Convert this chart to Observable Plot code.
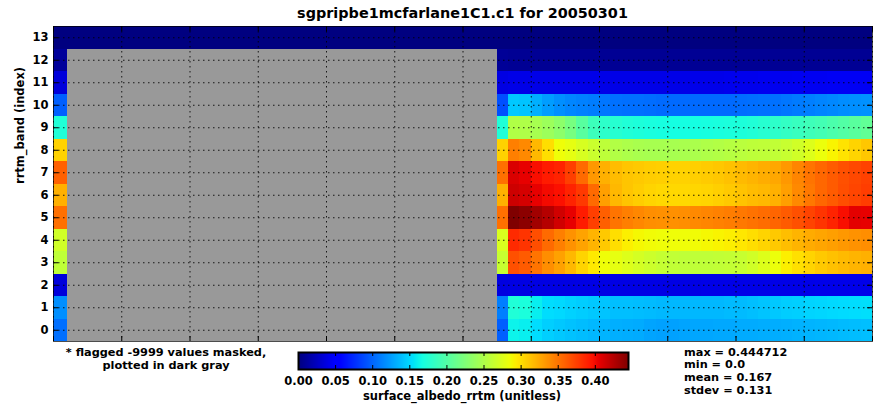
<!DOCTYPE html>
<html><head><meta charset="utf-8">
<script src="https://cdn.jsdelivr.net/npm/d3@7"></script>
<script src="https://cdn.jsdelivr.net/npm/@observablehq/plot@0.6"></script>
<style>
body{margin:0;background:#fff;}
#fig{position:relative;width:893px;height:405px;font-family:"DejaVu Sans",sans-serif;font-weight:bold;color:#000;overflow:hidden;}
#fig .t{position:absolute;white-space:nowrap;}
</style></head><body>
<div id="fig">
 <div class="t" style="left:0;width:925px;top:5px;text-align:center;font-size:14.4px;">sgpripbe1mcfarlane1C1.c1 for 20050301</div>
 <div class="t" style="left:36px;width:260px;top:346px;text-align:center;font-size:11.3px;line-height:13px;">* flagged -9999 values masked,<br>plotted in dark gray</div>
 <div class="t" style="left:684px;top:346.5px;font-size:11.3px;line-height:12.7px;" id="stats"></div>
 <div class="t" style="left:262px;width:400px;top:388.8px;text-align:center;font-size:11.5px;">surface_albedo_rrtm (unitless)</div>
</div>
<script>
// ---- data ----
const MASK = -9999;
const bands = [0,1,2,3,4,5,6,7,8,9,10,11,12,13];
// column start times (hours UTC); last column ends at dayEnd
const colStart = [0, 0.41, 13.0, 13.333, 13.667, 14.0, 14.333, 14.667, 15.0, 15.333, 15.667, 16.0, 16.333, 16.667, 17.0, 17.333, 17.667, 18.0, 18.333, 18.667, 19.0, 19.333, 19.667, 20.0, 20.333, 20.667, 21.0, 21.333, 21.667, 22.0, 22.333, 22.667, 23.0, 23.333, 23.667];
const dayEnd = 24;
const band0  = [0.104, MASK, 0.097, 0.162,0.160,0.152,0.146,0.143, 0.140,0.138,0.136,0.134,0.132, 0.131,0.130,0.127,0.126,0.126, 0.127,0.128,0.128,0.129,0.129, 0.130,0.130,0.131,0.131,0.132, 0.133,0.134,0.135,0.136,0.137, 0.138,0.139];
const band1  = [0.118, MASK, 0.111, 0.173,0.170,0.160,0.152,0.150, 0.147,0.145,0.143,0.141,0.139, 0.139,0.138,0.137,0.136,0.136, 0.136,0.136,0.136,0.136,0.137, 0.137,0.139,0.141,0.143,0.145, 0.146,0.148,0.149,0.150,0.151, 0.152,0.153];
const band2  = [0.035, MASK, 0.037, 0.038,0.038,0.038,0.038,0.038, 0.038,0.039,0.039,0.039,0.039, 0.039,0.039,0.039,0.039,0.039, 0.039,0.039,0.040,0.040,0.040, 0.040,0.040,0.040,0.040,0.040, 0.040,0.040,0.041,0.041,0.041, 0.041,0.041];
const band3  = [0.259, MASK, 0.263, 0.367,0.362,0.350,0.338,0.329, 0.318,0.305,0.295,0.285,0.280, 0.275,0.270,0.266,0.262,0.260, 0.259,0.259,0.259,0.260,0.261, 0.263,0.268,0.275,0.283,0.292, 0.299,0.305,0.310,0.314,0.317, 0.320,0.322];
const band4  = [0.268, MASK, 0.273, 0.385,0.380,0.368,0.355,0.345, 0.336,0.328,0.320,0.310,0.300, 0.292,0.288,0.286,0.285,0.285, 0.285,0.286,0.288,0.290,0.292, 0.296,0.300,0.305,0.310,0.315, 0.320,0.324,0.327,0.330,0.333, 0.336,0.338];
const band5  = [0.352, MASK, 0.352, 0.444712,0.440,0.432,0.424,0.414, 0.405,0.392,0.375,0.360,0.350, 0.345,0.341,0.338,0.337,0.337, 0.338,0.340,0.342,0.344,0.346, 0.348,0.351,0.354,0.357,0.362, 0.367,0.373,0.380,0.388,0.398, 0.406,0.405];
const band6  = [0.322, MASK, 0.322, 0.415,0.412,0.405,0.400,0.397, 0.388,0.378,0.355,0.330,0.318, 0.312,0.308,0.305,0.303,0.303, 0.303,0.304,0.305,0.307,0.310, 0.313,0.316,0.318,0.322,0.330, 0.340,0.348,0.356,0.362,0.368, 0.372,0.376];
const band7  = [0.359, MASK, 0.352, 0.410,0.405,0.398,0.392,0.388, 0.375,0.355,0.333,0.322,0.316, 0.312,0.310,0.308,0.307,0.306, 0.306,0.307,0.309,0.311,0.314, 0.317,0.320,0.323,0.326,0.333, 0.342,0.350,0.356,0.362,0.367, 0.371,0.374];
const band8  = [0.306, MASK, 0.306, 0.345,0.340,0.318,0.300,0.285, 0.280,0.272,0.265,0.258,0.252, 0.249,0.247,0.246,0.246,0.246, 0.247,0.248,0.250,0.252,0.254, 0.256,0.258,0.259,0.260,0.263, 0.268,0.275,0.283,0.290,0.298, 0.305,0.311];
const band9  = [0.173, MASK, 0.173, 0.251,0.250,0.246,0.240,0.232, 0.220,0.203,0.188,0.180,0.176, 0.173,0.171,0.169,0.168,0.167, 0.167,0.167,0.168,0.169,0.170, 0.171,0.173,0.176,0.180,0.183, 0.186,0.189,0.192,0.196,0.200, 0.204,0.208];
const band10 = [0.097, MASK, 0.090, 0.143,0.141,0.132,0.124,0.118, 0.114,0.112,0.110,0.107,0.105, 0.104,0.104,0.103,0.102,0.102, 0.102,0.102,0.102,0.102,0.102, 0.103,0.104,0.105,0.105,0.107, 0.109,0.111,0.113,0.115,0.117, 0.118,0.119];
const band11 = [0.035, MASK, 0.038, 0.040,0.040,0.040,0.040,0.040, 0.040,0.040,0.040,0.040,0.040, 0.040,0.040,0.040,0.040,0.040, 0.040,0.041,0.041,0.041,0.042, 0.042,0.042,0.043,0.043,0.043, 0.044,0.044,0.044,0.045,0.045, 0.045,0.045];
const band12 = [0.010, MASK, 0.009, 0.008,0.008,0.008,0.008,0.008, 0.008,0.008,0.008,0.008,0.008, 0.008,0.008,0.008,0.008,0.008, 0.008,0.008,0.008,0.008,0.008, 0.008,0.008,0.008,0.008,0.008, 0.008,0.008,0.008,0.008,0.008, 0.008,0.008];
const band13 = [0.0, 0.0, 0.0, 0.0,0.0,0.0,0.0,0.0, 0.0,0.0,0.0,0.0,0.0, 0.0,0.0,0.0,0.0,0.0, 0.0,0.0,0.0,0.0,0.0, 0.0,0.0,0.0,0.0,0.0, 0.0,0.0,0.0,0.0,0.0, 0.0,0.0];
const yTicks = [0,1,2,3,4,5,6,7,8,9,10,11,12,13];
const xTicks = [0,2,4,6,8,10,12,14,16,18,20,22,24];
const cbTicks = [0,0.05,0.10,0.15,0.20,0.25,0.30,0.35,0.40];
const statLabels = ["max", "min", "mean", "stdev"];
const statValues = ["0.444712", "0.0", "0.167", "0.131"];
const vmax = 0.444712;
const titleY = "rrtm_band (index)";

// ---- jet colormap (matplotlib segment data) ----
const jetR = [[0,0],[0.35,0],[0.66,1],[0.89,1],[1,0.5]];
const jetG = [[0,0],[0.125,0],[0.375,1],[0.64,1],[0.91,0],[1,0]];
const jetB = [[0,0.5],[0.11,1],[0.34,1],[0.65,0],[1,0]];
function seg(p, t) {
  for (let i = 1; i < p.length; i++) if (t <= p[i][0]) {
    const [t0, v0] = p[i-1], [t1, v1] = p[i];
    return v0 + (v1 - v0) * (t - t0) / (t1 - t0);
  }
  return p[p.length-1][1];
}
function jet(t) {
  t = Math.max(0, Math.min(1, t));
  const c = v => Math.round(255 * v);
  return `rgb(${c(seg(jetR,t))},${c(seg(jetG,t))},${c(seg(jetB,t))})`;
}
const colorOpts = {type: "linear", domain: [0, vmax], interpolate: jet};

// ---- table ----
const rows = [band0,band1,band2,band3,band4,band5,band6,band7,band8,band9,band10,band11,band12,band13];
const colEnd = colStart.slice(1).concat([dayEnd]);
const cells = rows.flatMap((vals, r) => vals.map((v, c) => ({band: bands[r], t0: colStart[c], t1: colEnd[c], v})));
const valid = cells.filter(d => d.v !== MASK);
const masked = cells.filter(d => d.v === MASK);

const font = {fontFamily: "DejaVu Sans", fontSize: "11.5px", fontWeight: "bold", background: "transparent", overflow: "visible"};
const rectOpts = {x1: "t0", x2: "t1", y1: d => d.band - 0.5, y2: d => d.band + 0.5, shapeRendering: "crispEdges"};
const gridStyle = {stroke: "#000", strokeOpacity: 0.85, strokeDasharray: "1.5,3.5"};

const main = Plot.plot({
  width: 893, height: 345,
  marginLeft: 53, marginRight: 21, marginTop: 26, marginBottom: 4,
  style: font,
  x: {domain: [0, dayEnd], axis: null},
  y: {domain: [-0.5, 13.5], ticks: yTicks, tickSize: 0, tickPadding: 5, label: null},
  color: colorOpts,
  marks: [
    Plot.rect(valid, {...rectOpts, fill: "v"}),
    Plot.rect(masked, {...rectOpts, fill: "#999999"}),
    Plot.ruleY(yTicks, {y: d => d, ...gridStyle}),
    Plot.ruleX(xTicks, {x: d => d, ...gridStyle}),
    Plot.ruleY(yTicks, {y: d => d, stroke: "#000", insetRight: 814}),
    Plot.ruleY(yTicks, {y: d => d, stroke: "#000", insetLeft: 814}),
    Plot.ruleX(xTicks, {x: d => d, stroke: "#000", insetTop: 310}),
    Plot.ruleX(xTicks, {x: d => d, stroke: "#000", insetBottom: 310}),
    Plot.frame({stroke: "#000", strokeOpacity: 0.7}),
    Plot.text([titleY], {text: d => d, frameAnchor: "left", dx: -33, rotate: -90, fontSize: 11.5, fontWeight: "bold"})
  ]
});
main.style.position = "absolute"; main.style.left = "0px"; main.style.top = "0px";
document.getElementById("fig").appendChild(main);

const cb = Plot.plot({
  width: 400, height: 49,
  marginLeft: 40, marginRight: 30, marginTop: 2, marginBottom: 30,
  style: font,
  x: {domain: [0, vmax], ticks: cbTicks, tickFormat: d3.format(".2f"), tickSize: 0, tickPadding: 7, label: null},
  y: {domain: [0, 1], axis: null},
  color: colorOpts,
  marks: [
    Plot.raster({fill: (x, y) => x, x1: 0, x2: vmax, y1: 0, y2: 1, width: 330, height: 1}),
    Plot.ruleX(cbTicks, {x: d => d, stroke: "#000", insetBottom: 13}),
    Plot.ruleX(cbTicks, {x: d => d, stroke: "#000", insetTop: 13}),
    Plot.frame({stroke: "#000", strokeWidth: 2})
  ]
});
cb.style.position = "absolute"; cb.style.left = "258px"; cb.style.top = "350px";
document.getElementById("fig").appendChild(cb);

document.getElementById("stats").innerHTML = statLabels.map((l, i) => `${l} = ${statValues[i]}`).join("<br>");
</script>
</body></html>
